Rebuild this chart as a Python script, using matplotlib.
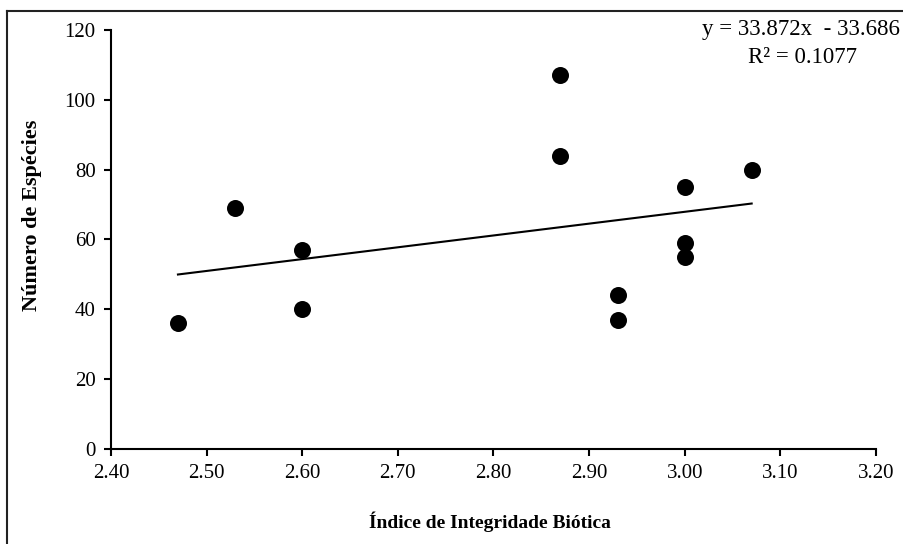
import numpy as np
import matplotlib.pyplot as plt
from matplotlib.lines import Line2D

# data
iib = [2.47, 2.53, 2.60, 2.60, 2.87, 2.87, 2.93, 2.93, 3.00, 3.00, 3.00, 3.07]
especies = [36, 69, 57, 40, 107, 84, 44, 37, 75, 59, 55, 80]
x_ticks = [2.40, 2.50, 2.60, 2.70, 2.80, 2.90, 3.00, 3.10, 3.20]
y_ticks = [0, 20, 40, 60, 80, 100, 120]
eq_text = "y = 33.872x  - 33.686"
r2_text = "R² = 0.1077"

plt.rcParams['font.family'] = ['Liberation Serif', 'DejaVu Serif']

fig = plt.figure(figsize=(9.04, 5.44), dpi=100)
ax = fig.add_axes([0.1228, 0.1746, 0.8462, 0.7703])

ax.scatter(iib, especies, s=150, color='black', zorder=3, linewidths=0)

# linear trend line
slope, intercept = np.polyfit(iib, especies, 1)
xs = np.array([min(iib), max(iib)])
ax.plot(xs, slope * xs + intercept, color='black', lw=1.5)

ax.set_xlim(2.40, 3.20)
ax.set_ylim(0, 120)
ax.set_xticks(x_ticks)
ax.set_xticklabels(["%.2f" % v for v in x_ticks])
ax.set_yticks(y_ticks)
for s in ['top', 'right']:
    ax.spines[s].set_visible(False)
for s in ['left', 'bottom']:
    ax.spines[s].set_linewidth(1.5)
ax.tick_params(direction='out', length=5, width=1.5, labelsize=15, pad=6)

ax.set_xlabel("Índice de Integridade Biótica", fontsize=14, fontweight='bold')
ax.set_ylabel("Número de Espécies", fontsize=16, fontweight='bold')
ax.xaxis.set_label_coords(0.495, -0.15)
ax.yaxis.set_label_coords(-0.09, 0.558)

fig.text(0.777, 0.945, eq_text, fontsize=16.5, ha='left', va='center')
fig.text(0.888, 0.895, r2_text, fontsize=16.5, ha='center', va='center')

# outer frame (only top and left edges visible in the original crop)
fig.add_artist(Line2D([0.0077, 1.0], [0.98, 0.98], color='#222222', lw=1.5, transform=fig.transFigure))
fig.add_artist(Line2D([0.0077, 0.0077], [0.0, 0.98], color='#222222', lw=1.5, transform=fig.transFigure))

fig.savefig("out.png", dpi=100)
